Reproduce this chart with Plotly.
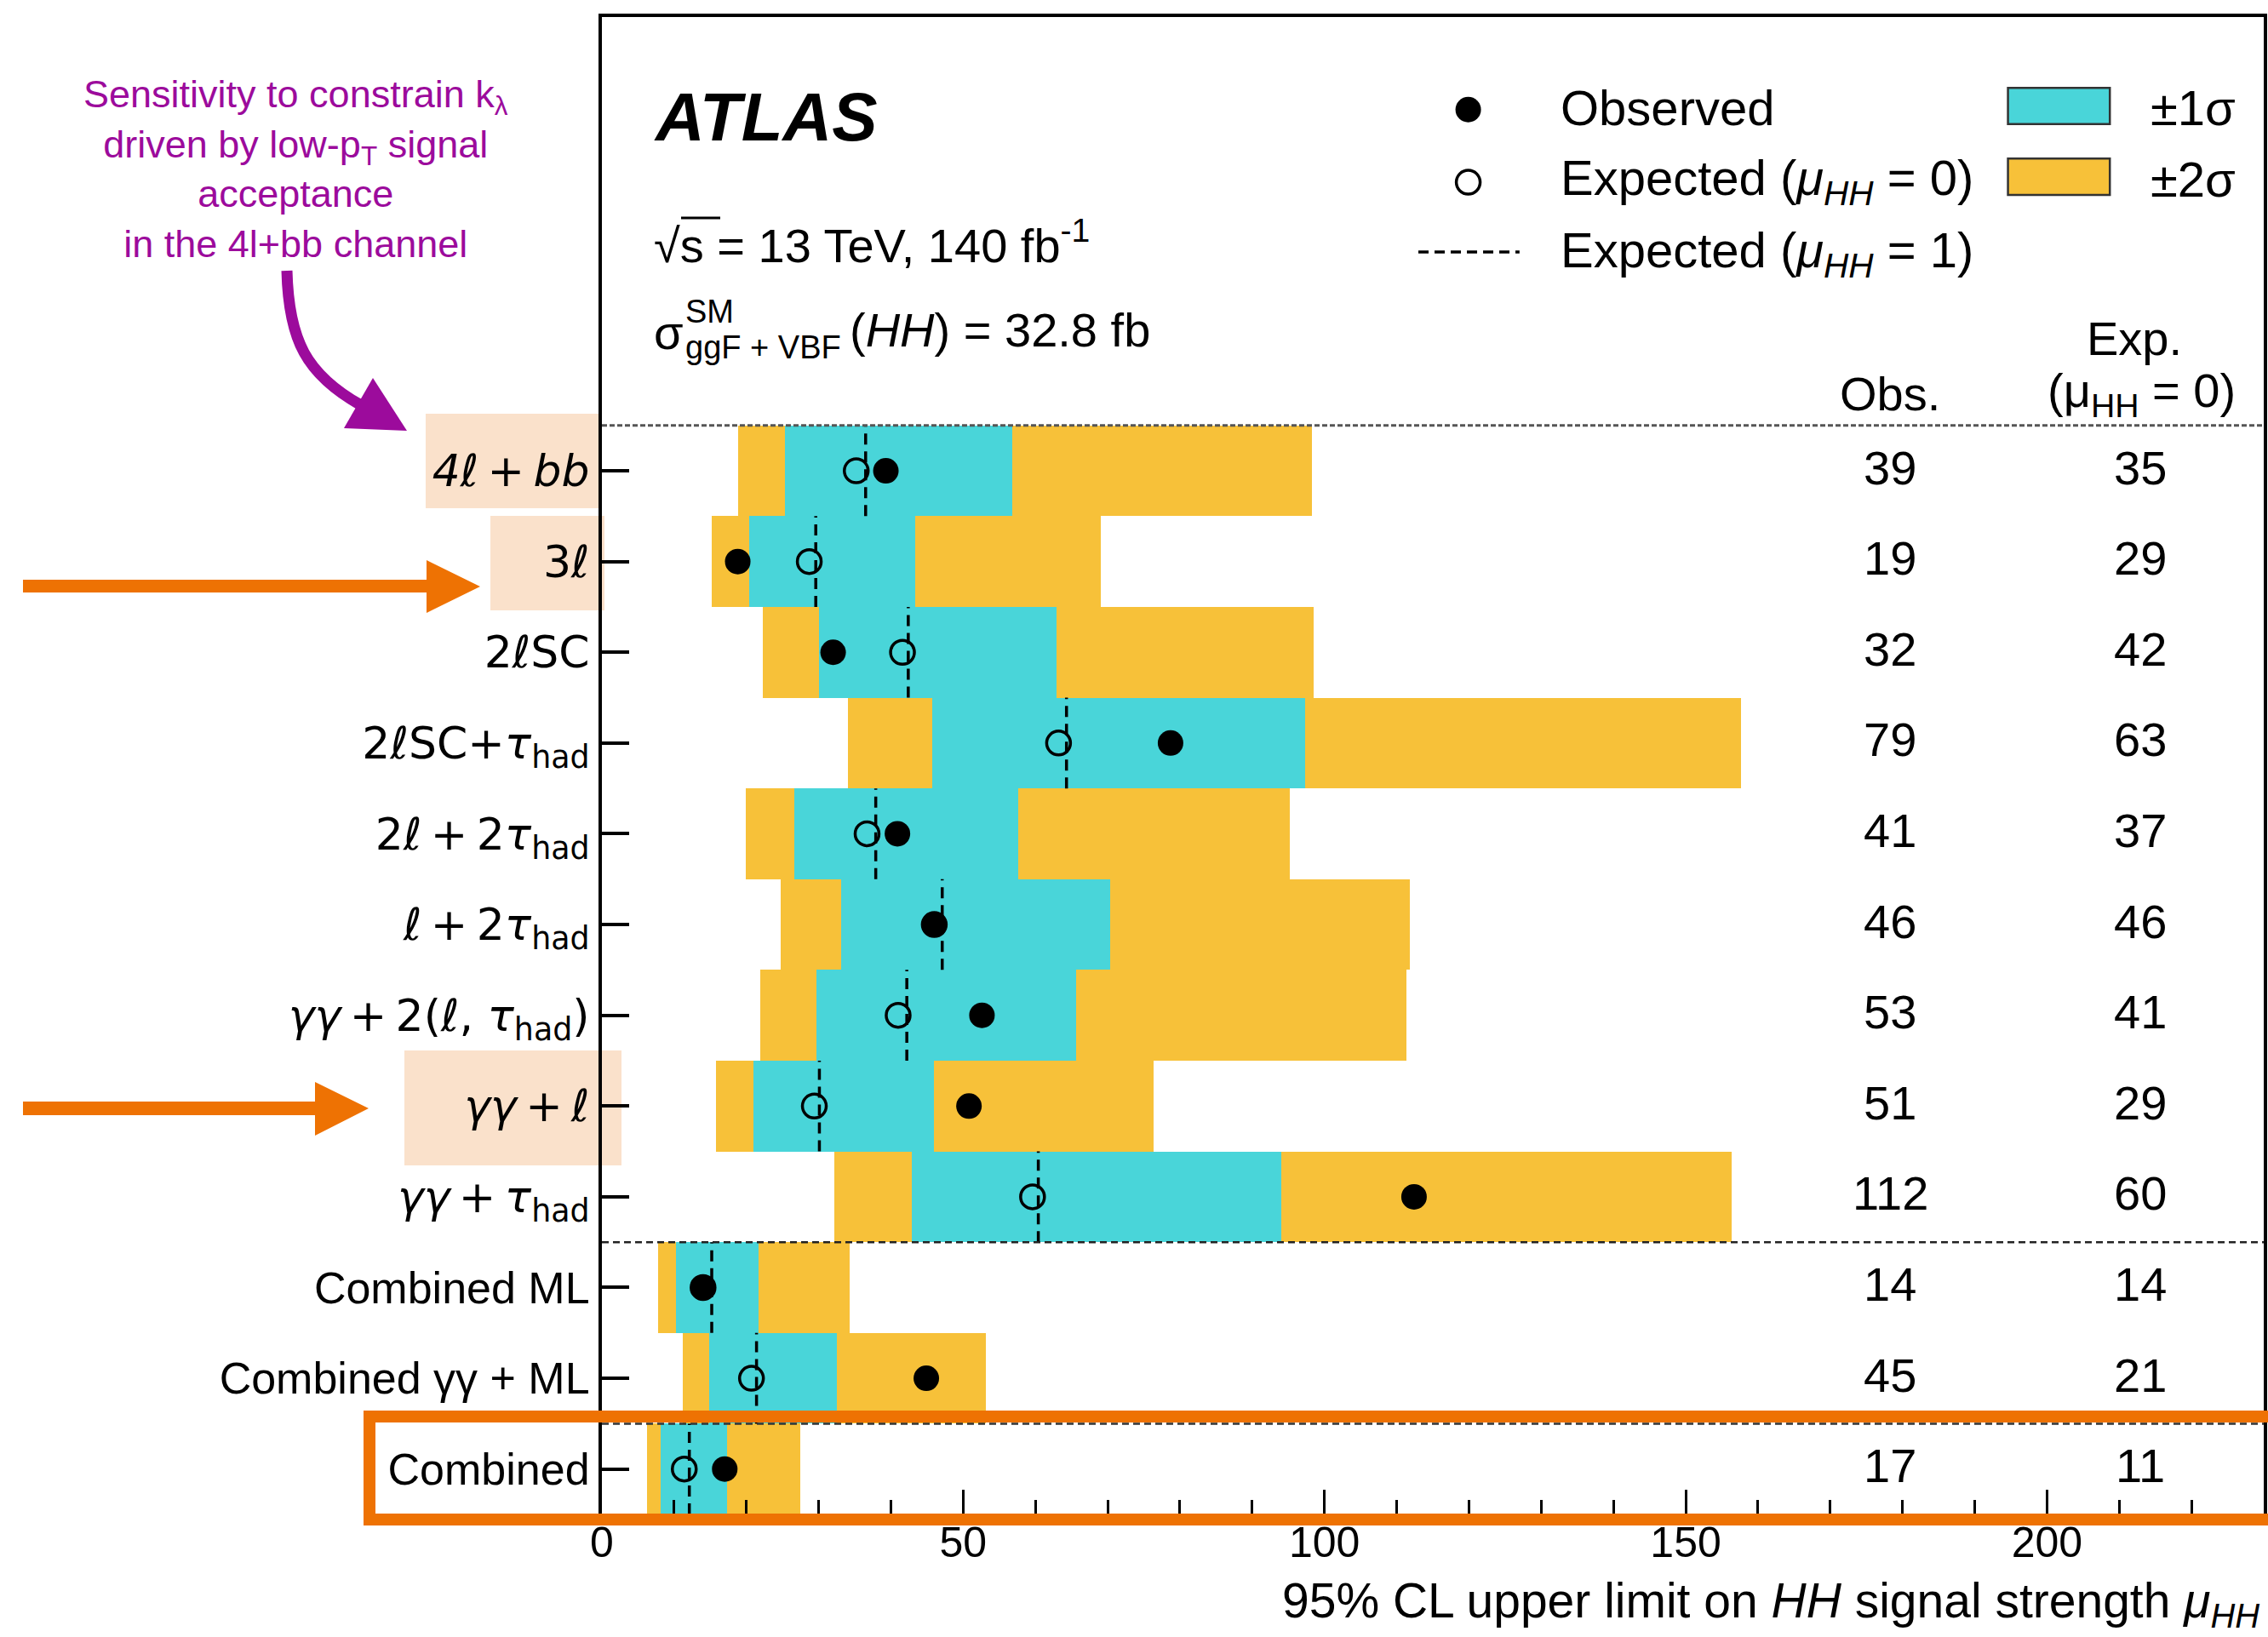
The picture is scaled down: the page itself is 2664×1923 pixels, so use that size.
import plotly.graph_objects as go

# ---------------- data (top row first) ----------------
MATH = '<span style="font-family:DejaVu Sans">{}</span>'
TXT = '<span style="font-family:Liberation Sans">{}</span>'
S = "\u2009"
channels = [
    MATH.format(f"<i>4ℓ{S}+{S}bb</i>"),
    MATH.format("3ℓ"),
    MATH.format("2ℓSC"),
    MATH.format("2ℓSC+<i>τ</i><sub>had</sub>"),
    MATH.format(f"2ℓ{S}+{S}2<i>τ</i><sub>had</sub>"),
    MATH.format(f"ℓ{S}+{S}2<i>τ</i><sub>had</sub>"),
    MATH.format(f"<i>γγ</i>{S}+{S}2(ℓ, <i>τ</i><sub>had</sub>)"),
    MATH.format(f"<i>γγ</i>{S}+{S}ℓ"),
    MATH.format(f"<i>γγ</i>{S}+{S}<i>τ</i><sub>had</sub>"),
    TXT.format("Combined ML"),
    TXT.format("Combined γγ + ML"),
    TXT.format("Combined"),
]
obs = [39.3, 18.8, 32.0, 78.7, 40.9, 46.0, 52.6, 50.8, 112.4, 14.0, 44.9, 17.0]
exp0 = [35.2, 28.7, 41.6, 63.2, 36.7, 46.0, 41.0, 29.4, 59.6, 14.0, 20.7, 11.4]
exp1 = [36.5, 29.6, 42.4, 64.3, 37.9, 47.1, 42.2, 30.1, 60.4, 15.2, 21.4, 12.1]
minus2 = [18.8, 15.2, 22.3, 34.0, 19.9, 24.8, 21.9, 15.8, 32.2, 7.8, 11.2, 6.2]
minus1 = [25.3, 20.4, 30.0, 45.7, 26.6, 33.1, 29.7, 21.0, 42.9, 10.2, 14.8, 8.1]
plus1 = [56.8, 43.4, 62.9, 97.3, 57.6, 70.3, 65.6, 46.0, 94.0, 21.7, 32.5, 17.3]
plus2 = [98.3, 69.0, 98.5, 157.7, 95.2, 111.8, 111.4, 76.4, 156.4, 34.3, 53.1, 27.5]
obs_text = ["39", "19", "32", "79", "41", "46", "53", "51", "112", "14", "45", "17"]
exp_text = ["35", "29", "42", "63", "37", "46", "41", "29", "60", "14", "21", "11"]
x_ticks = [0, 50, 100, 150, 200]

n = len(channels)
ypos = [n - 1 - i for i in range(n)]

CYAN = "#49D5D9"
YELLOW = "#F7C139"
ORANGE = "#EE7203"
PURPLE = "#9C0B9C"
PEACH = "#FAE1CB"
FONT = "Liberation Sans, Arial, Helvetica, sans-serif"

W, H = 2664, 1923
L, R, T, B = 707, 5, 20, 144
PW, PH = W - L - R, H - T - B


def PX(x):
    return (x - L) / PW


def PY(y):
    return (H - B - y) / PH


fig = go.Figure()

# +-2 sigma
fig.add_trace(go.Bar(orientation="h", y=ypos, base=minus2,
                     x=[b - a for a, b in zip(minus2, plus2)], width=1,
                     marker=dict(color=YELLOW, line=dict(width=0)), hoverinfo="skip"))
# +-1 sigma
fig.add_trace(go.Bar(orientation="h", y=ypos, base=minus1,
                     x=[b - a for a, b in zip(minus1, plus1)], width=1,
                     marker=dict(color=CYAN, line=dict(width=0)), hoverinfo="skip"))

# expected (mu=1) dashed lines
dx, dy = [], []
for v, yy in zip(exp1, ypos):
    dx += [v, v, None]
    dy += [yy - 0.5, yy + 0.5, None]
fig.add_trace(go.Scatter(x=dx, y=dy, mode="lines",
                         line=dict(color="black", width=3.5, dash="13px,8px"), hoverinfo="skip"))

# expected (mu=0) open circles
fig.add_trace(go.Scatter(x=exp0, y=ypos, mode="markers",
                         marker=dict(symbol="circle-open", size=28, color="black",
                                     line=dict(width=3.5, color="black"))))
# observed
fig.add_trace(go.Scatter(x=obs, y=ypos, mode="markers",
                         marker=dict(symbol="circle", size=30, color="black")))

# legend markers (in the upper free area of the plot)
fig.add_trace(go.Scatter(x=[119.9], y=[14.98], mode="markers",
                         marker=dict(symbol="circle", size=30, color="black")))
fig.add_trace(go.Scatter(x=[119.9], y=[14.18], mode="markers",
                         marker=dict(symbol="circle-open", size=28, color="black",
                                     line=dict(width=3.5, color="black"))))
fig.add_trace(go.Scatter(x=[113.0, 127.0], y=[13.41, 13.41], mode="lines",
                         line=dict(color="black", width=3.5, dash="12px,7px")))

shapes = []
# legend boxes
shapes.append(dict(type="rect", xref="x", yref="y", x0=194.6, x1=208.7, y0=14.82, y1=15.22,
                   fillcolor=CYAN, line=dict(color="#333", width=2.5)))
shapes.append(dict(type="rect", xref="x", yref="y", x0=194.6, x1=208.7, y0=14.04, y1=14.44,
                   fillcolor=YELLOW, line=dict(color="#333", width=2.5)))

# separators
shapes.append(dict(type="line", xref="paper", yref="y", x0=0, x1=1, y0=n - 0.5, y1=n - 0.5,
                   line=dict(color="#555", width=3, dash="6px,3px"), layer="above"))
shapes.append(dict(type="line", xref="paper", yref="y", x0=0, x1=1, y0=2.5, y1=2.5,
                   line=dict(color="#222", width=2.5, dash="8px,5px"), layer="above"))
shapes.append(dict(type="line", xref="paper", yref="y", x0=0, x1=1, y0=0.5, y1=0.5,
                   line=dict(color="#333", width=2.5, dash="8px,5px"), layer="above"))

# peach highlight boxes behind labels
for (x0, x1, y0, y1) in [(500, 705, 486, 597), (576, 710, 606, 717), (475, 730, 1234, 1369)]:
    shapes.append(dict(type="rect", xref="paper", yref="paper",
                       x0=PX(x0), x1=PX(x1), y0=PY(y1), y1=PY(y0),
                       fillcolor=PEACH, line=dict(width=0), layer="below"))


def poly(pts):
    s = "M " + " L ".join(f"{PX(x):.5f},{PY(y):.5f}" for x, y in pts) + " Z"
    return s


# orange arrows
shapes.append(dict(type="path", xref="paper", yref="paper",
                   path=poly([(27, 681), (501, 681), (501, 658), (564, 689), (501, 720), (501, 696), (27, 696)]),
                   fillcolor=ORANGE, line=dict(width=0)))
shapes.append(dict(type="path", xref="paper", yref="paper",
                   path=poly([(27, 1294), (370, 1294), (370, 1271), (433, 1302), (370, 1334), (370, 1310), (27, 1310)]),
                   fillcolor=ORANGE, line=dict(width=0)))

# orange outline around "Combined"
shapes.append(dict(type="rect", xref="paper", yref="paper",
                   x0=PX(434), x1=PX(2690), y0=PY(1785), y1=PY(1664),
                   line=dict(color=ORANGE, width=14), fillcolor="rgba(0,0,0,0)", layer="above"))

# purple curved arrow
curve = (f"M {PX(337):.5f},{PY(318):.5f} C {PX(339):.5f},{PY(400):.5f} "
         f"{PX(360):.5f},{PY(440):.5f} {PX(424):.5f},{PY(476):.5f}")
shapes.append(dict(type="path", xref="paper", yref="paper", path=curve,
                   line=dict(color=PURPLE, width=13)))
shapes.append(dict(type="path", xref="paper", yref="paper",
                   path=poly([(438, 444), (404, 503), (478, 506)]),
                   fillcolor=PURPLE, line=dict(width=0)))

# overline of sqrt(s)
shapes.append(dict(type="line", xref="paper", yref="paper",
                   x0=PX(800), x1=PX(846), y0=PY(256), y1=PY(256),
                   line=dict(color="black", width=3)))

ann = []


def txt(text, x, y, size, xanchor="left", yanchor="middle", color="black", family=FONT):
    ann.append(dict(text=text, x=PX(x), y=PY(y), xref="paper", yref="paper",
                    xanchor=xanchor, yanchor=yanchor, showarrow=False,
                    font=dict(size=size, color=color, family=family)))


txt("<b><i>ATLAS</i></b>", 766, 137, 80)
txt("√s = 13 TeV, 140 fb<sup>-1</sup>", 766, 284, 56)
txt("σ", 766, 390, 56)
txt("SM", 803, 366, 38)
txt("ggF + VBF", 803, 408, 38)
txt("(<i>HH</i>) = 32.8 fb", 996, 388, 56)

txt("Observed", 1831, 126, 58)
txt("Expected (<i>μ<sub>HH</sub></i> = 0)", 1831, 213, 58)
txt("Expected (<i>μ<sub>HH</sub></i> = 1)", 1831, 298, 58)
txt("±1σ", 2524, 126, 58)
txt("±2σ", 2524, 211, 58)

txt("Obs.", 2220, 462, 56, xanchor="center")
txt("Exp.", 2507, 397, 56, xanchor="center")
txt("(μ<sub>HH</sub> = 0)", 2515, 462, 56, xanchor="center")

for i in range(n):
    ann.append(dict(text=obs_text[i], x=178.3, y=ypos[i], xref="x", yref="y", showarrow=False,
                    xanchor="center", yanchor="middle", yshift=4, font=dict(size=56, color="black", family=FONT)))
    ann.append(dict(text=exp_text[i], x=212.9, y=ypos[i], xref="x", yref="y", showarrow=False,
                    xanchor="center", yanchor="middle", yshift=4, font=dict(size=56, color="black", family=FONT)))

txt("95% CL upper limit on <i>HH</i> signal strength <i>μ<sub>HH</sub></i>", 2656, 1884, 57, xanchor="right")

txt("Sensitivity to constrain k<sub>λ</sub><br>driven by low-p<sub>T</sub> signal<br>acceptance<br>in the 4l+bb channel",
    347, 198, 45, xanchor="center", color=PURPLE,
    family="Liberation Sans Narrow, Arial Narrow, Liberation Sans, sans-serif")

fig.update_layout(
    width=W, height=H,
    margin=dict(l=L, r=R, t=T, b=B, autoexpand=False),
    paper_bgcolor="white", plot_bgcolor="rgba(0,0,0,0)",
    showlegend=False, barmode="overlay", bargap=0,
    font=dict(family=FONT, color="black", size=50),
    shapes=shapes, annotations=ann,
    xaxis=dict(range=[0, 230], showgrid=False, zeroline=False, showline=True, linecolor="black",
               linewidth=4, mirror=True, ticks="inside", ticklen=29, tickwidth=3, tickcolor="black",
               tickvals=x_ticks, ticktext=[str(v) for v in x_ticks], tickfont=dict(size=50),
               ticklabelstandoff=-14,
               minor=dict(dtick=10, tick0=0, ticks="inside", ticklen=17, tickwidth=2.5, tickcolor="black")),
    yaxis=dict(range=[-0.5, 16], showgrid=False, zeroline=False, showline=True, linecolor="black",
               linewidth=4, mirror=True, ticks="inside", ticklen=32, tickwidth=4, tickcolor="black",
               tickvals=ypos, ticktext=channels, tickfont=dict(size=52, family=FONT)),
)

fig.write_html("out.html")
